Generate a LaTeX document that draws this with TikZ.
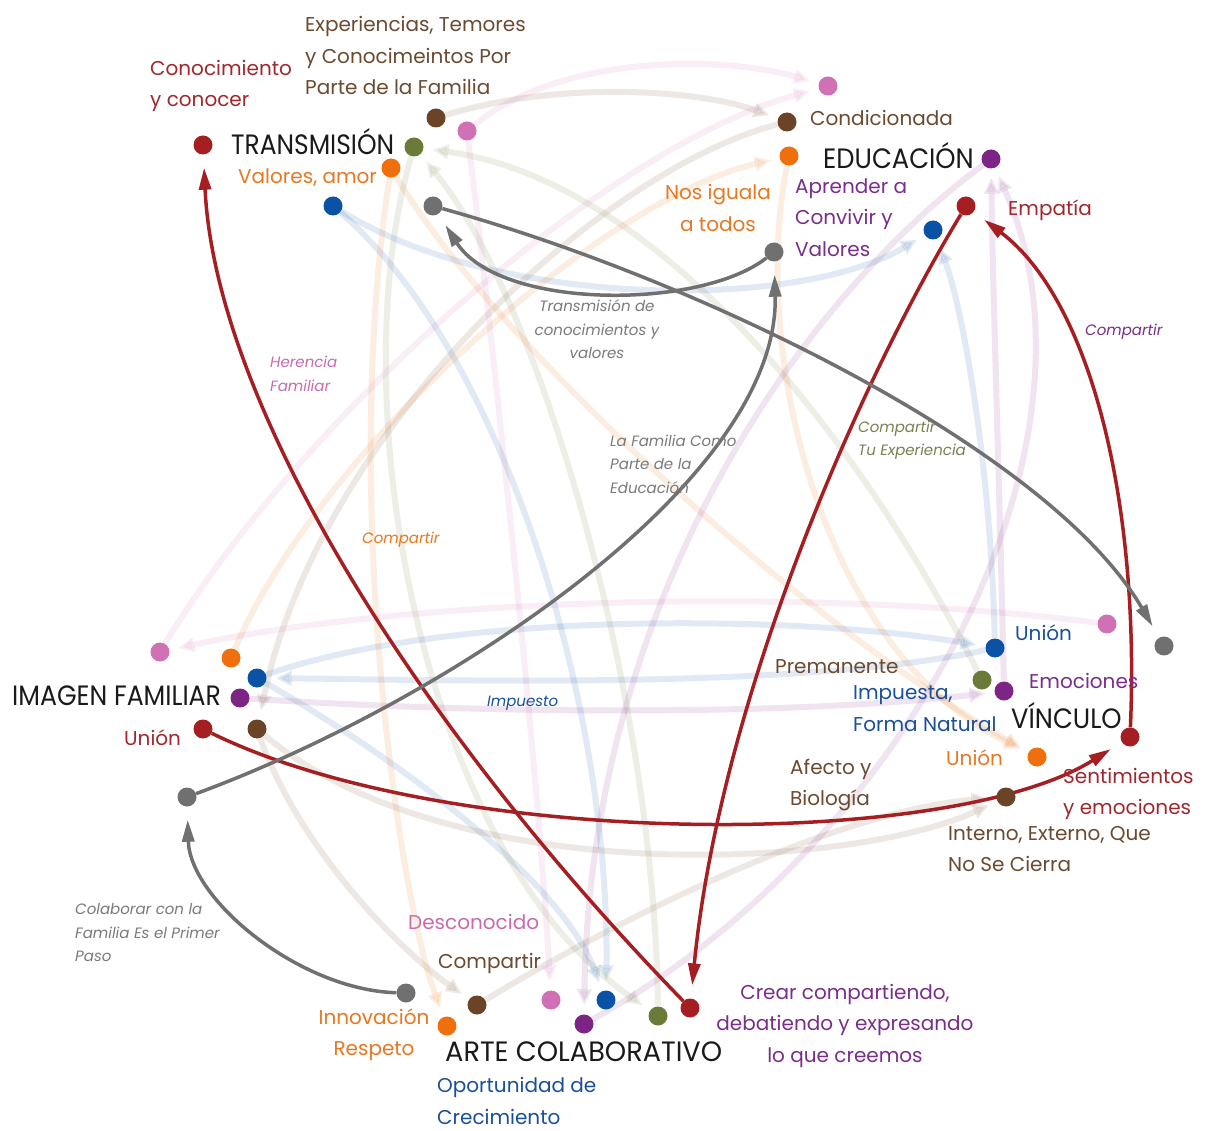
\documentclass[tikz,border=0pt]{standalone}
\usepackage{fontspec}
\usepackage{graphicx}
\setmainfont{Poppins}
\usetikzlibrary{arrows.meta,backgrounds}
\definecolor{cred}{HTML}{A51E22}
\definecolor{cbrown}{HTML}{6B4428}
\definecolor{colive}{HTML}{6B7A38}
\definecolor{corange}{HTML}{EE6F0C}
\definecolor{cpurple}{HTML}{7D2585}
\definecolor{cblue}{HTML}{0A52A5}
\definecolor{cpink}{HTML}{D070B5}
\definecolor{cgray}{HTML}{707070}
\definecolor{tred}{HTML}{A0282D}
\definecolor{tbrown}{HTML}{6B4A30}
\definecolor{torange}{HTML}{E87722}
\definecolor{tpurple}{HTML}{7B2D8B}
\definecolor{tblue}{HTML}{1A4F9C}
\definecolor{tpink}{HTML}{C86AB0}
\definecolor{tolive}{HTML}{7C8050}
\definecolor{tgray}{HTML}{7A7A7A}
\definecolor{titlec}{HTML}{1A1A1A}
\begin{document}
\begin{tikzpicture}[x=1pt,y=-1pt,
  dot/.style={circle,inner sep=0pt,minimum size=19pt,fill=#1},
  lbl/.style={font=\fontsize{20}{31.5}\selectfont,inner sep=0pt,text=#1},
  ttl/.style={font=\fontsize{28}{32}\selectfont,inner sep=0pt,text=titlec},
  itl/.style={font=\fontsize{15}{23.5}\selectfont\itshape,inner sep=0pt,text=#1},
  strong/.style={draw=#1,line width=3.5pt,-{Triangle[length=22pt,width=12pt]},shorten >=13pt},
  faint/.style={draw=#1,line width=6pt,opacity=0.12,-{Triangle[length=16pt,width=14pt]},shorten >=9pt}
]
\useasboundingbox (0,0) rectangle (1208,1131);
% dots: TRANSMISION
\node[dot=cred] (tRed) at (203,145) {};
\node[dot=cbrown] (tBrown) at (436,118) {};
\node[dot=cpink] (tPink) at (467,131) {};
\node[dot=colive] (tOlive) at (414,147) {};
\node[dot=corange] (tOrange) at (391,168) {};
\node[dot=cblue] (tBlue) at (333,206) {};
\node[dot=cgray] (tGray) at (433,206) {};
% EDUCACION
\node[dot=cpink] (ePink) at (828,86) {};
\node[dot=cbrown] (eBrown) at (787,122) {};
\node[dot=corange] (eOrange) at (789,156) {};
\node[dot=cpurple] (ePurple) at (991,159) {};
\node[dot=cred] (eRed) at (966,206) {};
\node[dot=cblue] (eBlue) at (933,230) {};
\node[dot=cgray] (eGray) at (774,252) {};
% IMAGEN FAMILIAR
\node[dot=cpink] (iPink) at (160,652) {};
\node[dot=corange] (iOrange) at (231,658) {};
\node[dot=cblue] (iBlue) at (257,678) {};
\node[dot=cpurple] (iPurple) at (240,698) {};
\node[dot=cred] (iRed) at (203,729) {};
\node[dot=cbrown] (iBrown) at (257,729) {};
\node[dot=cgray] (iGray) at (187,797) {};
% VINCULO
\node[dot=cpink] (vPink) at (1107,624) {};
\node[dot=cgray] (vGray) at (1164,646) {};
\node[dot=cblue] (vBlue) at (995,648) {};
\node[dot=colive] (vOlive) at (982,680) {};
\node[dot=cpurple] (vPurple) at (1004,691) {};
\node[dot=cred] (vRed) at (1130,737) {};
\node[dot=corange] (vOrange) at (1037,757) {};
\node[dot=cbrown] (vBrown) at (1006,797) {};
% ARTE COLABORATIVO
\node[dot=cgray] (aGray) at (406,993) {};
\node[dot=cbrown] (aBrown) at (477,1005) {};
\node[dot=corange] (aOrange) at (447,1026) {};
\node[dot=cpink] (aPink) at (551,1000) {};
\node[dot=cblue] (aBlue) at (606,1000) {};
\node[dot=cpurple] (aPurple) at (584,1024) {};
\node[dot=colive] (aOlive) at (658,1016) {};
\node[dot=cred] (aRed) at (690,1008) {};
% titles
\node[ttl,anchor=west] (tT) at (231,142) {\scalebox{0.89}[1]{TRANSMISIÓN}};
\node[ttl,anchor=west] (tE) at (823,156) {\scalebox{0.92}[1]{EDUCACIÓN}};
\node[ttl,anchor=west] (tI) at (12,696) {\scalebox{0.9}[1]{IMAGEN FAMILIAR}};
\node[ttl,anchor=west] (tV) at (1011,716) {\scalebox{0.92}[1]{VÍNCULO}};
\node[ttl,anchor=west] (tA) at (445,1052) {\scalebox{0.97}[1]{ARTE COLABORATIVO}};
% labels
\node[lbl=tred,anchor=west,align=left] (l1) at (150,86) {Conocimiento\\y conocer};
\node[lbl=tbrown,anchor=west,align=left] (l2) at (305,55.5) {Experiencias, Temores\\y Conocimeintos Por\\Parte de la Familia};
\node[lbl=torange,anchor=west] (l3) at (238,178) {Valores, amor};
\node[lbl=tbrown,anchor=west] (l4) at (810,118) {Condicionada};
\node[lbl=torange,align=center] (l5) at (718,208) {Nos iguala\\a todos};
\node[lbl=tpurple,anchor=west,align=left] (l6) at (795,217.5) {Aprender a\\Convivir y\\Valores};
\node[lbl=tred,anchor=west] (l7) at (1008,210) {Empatía};
\node[lbl=tred,anchor=west] (l8) at (124,738) {Unión};
\node[lbl=tblue,anchor=west] (l9) at (1015,633) {Unión};
\node[lbl=tbrown,anchor=west] (l10) at (775,667) {Premanente};
\node[lbl=tpurple,anchor=west] (l11) at (1029,681) {Emociones};
\node[lbl=tblue,anchor=west,align=left] (l12) at (853,708.5) {Impuesta,\\Forma Natural};
\node[lbl=torange,anchor=west] (l13) at (946,758) {Unión};
\node[lbl=tred,anchor=west,align=left] (l14) at (1063,794) {Sentimientos\\y emociones};
\node[lbl=tbrown,anchor=west,align=left] (l15) at (790,785) {Afecto y\\Biología};
\node[lbl=tbrown,anchor=west,align=left] (l16) at (948,849) {Interno, Externo, Que\\No Se Cierra};
\node[lbl=tpink,anchor=west] (l17) at (408,922) {Desconocido};
\node[lbl=tbrown,anchor=west] (l18) at (438,963) {Compartir};
\node[lbl=torange,align=center] (l19) at (374,1034.5) {Innovación\\Respeto};
\node[lbl=tpurple,align=center] (l20) at (845,1025.5) {Crear compartiendo,\\debatiendo y expresando\\lo que creemos};
\node[lbl=tblue,anchor=west,align=left] (l21) at (437,1101) {Oportunidad de\\Crecimiento};
% italic connector labels
\node[itl=tgray,align=center] (c1) at (597,329.5) {Transmisión de\\conocimientos y\\valores};
\node[itl=tpink,anchor=west,align=left] (c2) at (270,374) {Herencia\\Familiar};
\node[itl=tgray,anchor=west,align=left] (c3) at (610,464) {La Familia Como\\Parte de la\\Educación};
\node[itl=tolive,anchor=west,align=left] (c4) at (858,440) {Compartir\\Tu Experiencia};
\node[itl=tpurple,anchor=west] (c5) at (1085,332) {Compartir};
\node[itl=torange,anchor=west] (c6) at (362,540) {Compartir};
\node[itl=tblue,anchor=west] (c7) at (487,703) {Impuesto};
\node[itl=tgray,anchor=west,align=left] (c8) at (75,933) {Colaborar con la\\Familia Es el Primer\\Paso};
\begin{pgfonlayer}{background}
\fill[white] (0,0) rectangle (1208,1131);
% faint connectors
\draw[faint=cbrown] (tBrown) .. controls (560,80) and (700,90) .. (eBrown);
\draw[faint=cbrown] (eBrown) .. controls (600,170) and (320,430) .. (iBrown);
\draw[faint=cbrown] (iBrown) .. controls (450,890) and (850,870) .. (vBrown);
\draw[faint=cbrown] (aBrown) .. controls (650,900) and (850,810) .. (vBrown);
\draw[faint=cbrown] (iBrown) .. controls (300,850) and (400,950) .. (aBrown);
\draw[faint=colive] (vOlive) .. controls (850,420) and (650,180) .. (tOlive);
\draw[faint=colive] (aOlive) .. controls (655,700) and (540,300) .. (tOlive);
\draw[faint=colive] (tOlive) .. controls (340,400) and (420,850) .. (aOlive);
\draw[faint=cpink] (tPink) .. controls (560,55) and (720,55) .. (ePink);
\draw[faint=cpink] (iPink) .. controls (300,420) and (600,150) .. (ePink);
\draw[faint=cpink] (vPink) .. controls (800,585) and (400,600) .. (iPink);
\draw[faint=cpink] (tPink) .. controls (500,400) and (540,800) .. (aPink);
\draw[faint=corange] (iOrange) .. controls (320,450) and (600,200) .. (eOrange);
\draw[faint=corange] (tOrange) .. controls (500,350) and (800,620) .. (vOrange);
\draw[faint=corange] (eOrange) .. controls (750,350) and (820,650) .. (vOrange);
\draw[faint=corange] (tOrange) .. controls (340,500) and (400,900) .. (aOrange);
\draw[faint=cblue] (iBlue) .. controls (450,610) and (800,615) .. (vBlue);
\draw[faint=cblue] (vBlue) .. controls (800,690) and (450,680) .. (iBlue);
\draw[faint=cblue] (tBlue) .. controls (500,350) and (610,700) .. (aBlue);
\draw[faint=cblue] (tBlue) .. controls (500,310) and (800,310) .. (eBlue);
\draw[faint=cblue] (vBlue) .. controls (990,450) and (960,300) .. (eBlue);
\draw[faint=cblue] (iBlue) .. controls (400,760) and (560,880) .. (aBlue);
\draw[faint=cpurple] (vPurple) .. controls (1000,500) and (993,300) .. (ePurple);
\draw[faint=cpurple] (aPurple) .. controls (900,850) and (1120,450) .. (ePurple);
\draw[faint=cpurple] (iPurple) .. controls (500,715) and (800,715) .. (vPurple);
\draw[faint=cpurple] (ePurple) .. controls (800,300) and (590,600) .. (aPurple);
% strong connectors
\draw[strong=cred] (aRed) .. controls (410,720) and (215,400) .. (tRed);
\draw[strong=cred] (eRed) .. controls (860,380) and (720,700) .. (aRed);
\draw[strong=cred] (vRed) .. controls (1140,500) and (1090,300) .. (eRed);
\draw[strong=cred] (iRed) .. controls (450,850) and (950,850) .. (vRed);
\draw[strong=cgray] (aGray) .. controls (300,990) and (190,900) .. (iGray);
\draw[strong=cgray] (iGray) .. controls (450,700) and (780,480) .. (eGray);
\draw[strong=cgray] (eGray) .. controls (700,310) and (500,310) .. (tGray);
\draw[strong=cgray] (tGray) .. controls (700,280) and (1050,450) .. (vGray);
\end{pgfonlayer}
\end{tikzpicture}
\end{document}
